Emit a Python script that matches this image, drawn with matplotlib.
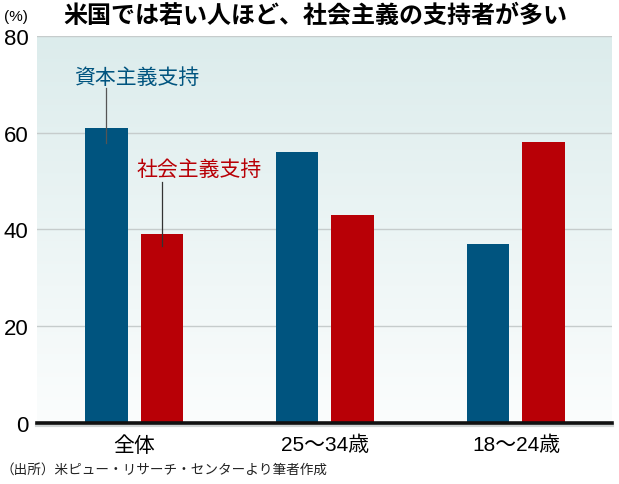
import matplotlib
matplotlib.use("Agg")
import matplotlib.pyplot as plt
import numpy as np
from matplotlib.colors import LinearSegmentedColormap

plt.rcParams['font.family'] = ['Noto Sans CJK JP', 'DejaVu Sans']

categories = ["全体", "25〜34歳", "18〜24歳"]
capitalism = [61, 56, 37]
socialism = [39, 43, 58]
yticks = [0, 20, 40, 60, 80]
title = "米国では若い人ほど、社会主義の支持者が多い"
source = "（出所）米ピュー・リサーチ・センターより筆者作成"

blue = "#00547f"
red = "#b80006"

fig = plt.figure(figsize=(6.19, 4.85), dpi=100)
ax = fig.add_axes([0.0598, 0.1258, 0.9289, 0.7979])

x = np.arange(len(categories))
w = 0.222
off = 0.145

ax.set_xlim(-0.508, 2.503)
ax.set_ylim(0, 80)

# gradient background
cmap = LinearSegmentedColormap.from_list("bg", ["#fbfdfd", "#dcecec"])
grad = np.linspace(0, 1, 256).reshape(-1, 1)
ax.imshow(grad, aspect='auto', cmap=cmap, origin='lower',
          extent=[-0.508, 2.503, 0, 80], zorder=0)

for yv in yticks[1:]:
    ax.axhline(yv, color="#c6cccc", lw=1.0, zorder=1)

ax.bar(x - off, capitalism, width=w, color=blue, zorder=3)
ax.bar(x + off, socialism, width=w, color=red, zorder=3)

# zero line with shadow
ax.axhline(-0.5, color="#d0d4d4", lw=3, zorder=4, clip_on=False)
ax.axhline(0, color="#111111", lw=2.6, zorder=5, clip_on=False)

# annotations
ax.plot([x[0] - off, x[0] - off], [57.8, 69.2], color="#555555", lw=0.9, zorder=6)
ax.plot([x[0] + off, x[0] + off], [36.6, 49.9], color="#333333", lw=0.9, zorder=6)
ax.text(0.013, 71.6, "資本主義支持", color=blue, fontsize=15, ha='center', va='center', zorder=7)
ax.text(0.34, 52.6, "社会主義支持", color=red, fontsize=15, ha='center', va='center', zorder=7)

for s in ax.spines.values():
    s.set_visible(False)

ax.set_yticks(yticks)
ax.set_yticklabels([str(v) for v in yticks], fontsize=16, family=['Liberation Sans', 'DejaVu Sans'])
ax.set_xticks(x)
ax.set_xticklabels(categories, fontsize=15, family=['Liberation Sans', 'Noto Sans CJK JP'])
ax.tick_params(axis='both', length=0)
ax.tick_params(axis='y', pad=6)
ax.tick_params(axis='x', pad=8.5)

fig.text(63/619, 1 - 16/485, title, fontsize=17.3, fontweight='bold', ha='left', va='center')
fig.text(4/619, 1 - 17/485, "(%)", fontsize=11, ha='left', va='center', family=['Liberation Sans'])
fig.text(0/619, 1 - 470/485, source, fontsize=9.8, ha='left', va='center', color="#222222")

fig.savefig("out.png", dpi=100)
